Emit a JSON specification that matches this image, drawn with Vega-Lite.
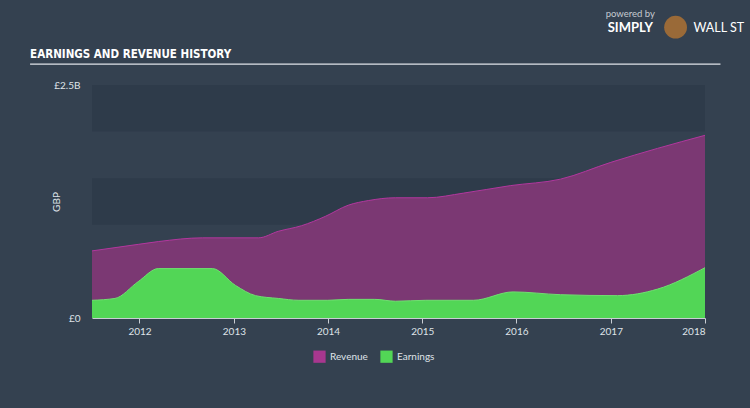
{
  "$schema": "https://vega.github.io/schema/vega-lite/v6.json",
  "autosize": {"type": "none"},
  "width": 613,
  "height": 233,
  "padding": {"left": 92, "top": 85, "right": 45, "bottom": 90},
  "background": "#344150",
  "config": {
    "view": {"stroke": null},
    "axis": {
      "labelFont": "Lato",
      "labelFontSize": 10,
      "labelColor": "#dfe3e8",
      "titleFont": "Lato",
      "titleColor": "#dfe3e8",
      "titleFontSize": 10,
      "titleFontWeight": "normal",
      "grid": false
    },
    "legend": {
      "labelFont": "Lato",
      "labelFontSize": 10,
      "labelColor": "#dfe3e8"
    }
  },
  "datasets": {
    "bands": [
      {"lo": 0, "hi": 0.5},
      {"lo": 1, "hi": 1.5},
      {"lo": 2, "hi": 2.5}
    ],
    "revenue": [
      {"date": "2011-07-01", "value": 0.72, "series": "Revenue"},
      {"date": "2011-12-27", "value": 0.79, "series": "Revenue"},
      {"date": "2012-03-14", "value": 0.82, "series": "Revenue"},
      {"date": "2012-09-01", "value": 0.86, "series": "Revenue"},
      {"date": "2013-04-06", "value": 0.86, "series": "Revenue"},
      {"date": "2013-06-22", "value": 0.93, "series": "Revenue"},
      {"date": "2013-09-20", "value": 0.99, "series": "Revenue"},
      {"date": "2013-12-21", "value": 1.09, "series": "Revenue"},
      {"date": "2014-03-20", "value": 1.21, "series": "Revenue"},
      {"date": "2014-06-06", "value": 1.26, "series": "Revenue"},
      {"date": "2014-09-19", "value": 1.29, "series": "Revenue"},
      {"date": "2015-01-21", "value": 1.29, "series": "Revenue"},
      {"date": "2015-06-10", "value": 1.34, "series": "Revenue"},
      {"date": "2015-12-08", "value": 1.42, "series": "Revenue"},
      {"date": "2016-06-20", "value": 1.49, "series": "Revenue"},
      {"date": "2017-01-01", "value": 1.67, "series": "Revenue"},
      {"date": "2017-07-01", "value": 1.82, "series": "Revenue"},
      {"date": "2018-01-01", "value": 1.96, "series": "Revenue"}
    ],
    "earnings": [
      {"date": "2011-07-01", "value": 0.19, "series": "Earnings"},
      {"date": "2011-09-28", "value": 0.21, "series": "Earnings"},
      {"date": "2011-12-27", "value": 0.39, "series": "Earnings"},
      {"date": "2012-03-14", "value": 0.53, "series": "Earnings"},
      {"date": "2012-10-10", "value": 0.53, "series": "Earnings"},
      {"date": "2013-01-07", "value": 0.35, "series": "Earnings"},
      {"date": "2013-03-26", "value": 0.24, "series": "Earnings"},
      {"date": "2013-06-22", "value": 0.21, "series": "Earnings"},
      {"date": "2013-09-10", "value": 0.19, "series": "Earnings"},
      {"date": "2013-12-31", "value": 0.19, "series": "Earnings"},
      {"date": "2014-03-20", "value": 0.2, "series": "Earnings"},
      {"date": "2014-07-01", "value": 0.2, "series": "Earnings"},
      {"date": "2014-09-19", "value": 0.18, "series": "Earnings"},
      {"date": "2015-01-15", "value": 0.19, "series": "Earnings"},
      {"date": "2015-07-18", "value": 0.19, "series": "Earnings"},
      {"date": "2015-12-19", "value": 0.28, "series": "Earnings"},
      {"date": "2016-06-20", "value": 0.25, "series": "Earnings"},
      {"date": "2017-01-27", "value": 0.24, "series": "Earnings"},
      {"date": "2017-07-01", "value": 0.31, "series": "Earnings"},
      {"date": "2018-01-01", "value": 0.54, "series": "Earnings"}
    ],
    "rule": [
      {"d1": "2010-11-03", "d2": "2018-03-02", "v": 2.725}
    ],
    "heading": [
      {"date": "2010-11-03", "v": 2.79, "t": "EARNINGS AND REVENUE HISTORY"}
    ],
    "powered": [
      {"date": "2016-12-12", "v": 3.23, "t": "powered by"}
    ],
    "simply": [
      {"date": "2016-12-20", "v": 3.07, "t": "SIMPLY"}
    ],
    "wallst": [
      {"date": "2017-11-17", "v": 3.07, "t": "WALL ST"}
    ],
    "bull": [
      {"date": "2017-09-09", "v": 3.12}
    ]
  },
  "layer": [
    {
      "data": {"name": "bands"},
      "mark": {"type": "rect", "color": "#2e3b4a"},
      "encoding": {
        "y": {"field": "lo", "type": "quantitative"},
        "y2": {"field": "hi"}
      }
    },
    {
      "data": {"name": "revenue"},
      "mark": {"type": "area", "interpolate": "monotone", "fill": "#7b3873", "opacity": 1, "fillOpacity": 1, "line": {"color": "#b2379e", "strokeWidth": 1}},
      "encoding": {
        "x": {"field": "date", "type": "temporal"},
        "y": {"field": "value", "type": "quantitative"}
      }
    },
    {
      "data": {"name": "earnings"},
      "mark": {"type": "area", "interpolate": "monotone", "fill": "#52d656", "opacity": 1, "fillOpacity": 1, "line": {"color": "#6fe070", "strokeWidth": 1}},
      "encoding": {
        "x": {"field": "date", "type": "temporal"},
        "y": {"field": "value", "type": "quantitative"}
      }
    },
    {
      "data": {"values": [{"series": "Revenue", "date": "2015-01-01", "value": 0}, {"series": "Earnings", "date": "2015-01-01", "value": 0}]},
      "mark": {"type": "point", "shape": "square", "filled": true, "opacity": 0},
      "encoding": {
        "x": {"field": "date", "type": "temporal"},
        "y": {"field": "value", "type": "quantitative"},
        "color": {
          "field": "series",
          "type": "nominal",
          "sort": ["Revenue", "Earnings"],
          "scale": {"domain": ["Revenue", "Earnings"], "range": ["#a8378f", "#52d656"]},
          "legend": {
            "title": null,
            "orient": "none",
            "legendX": 221,
            "legendY": 265,
            "direction": "horizontal",
            "symbolType": "square",
            "symbolSize": 150,
            "symbolOpacity": 1,
            "symbolStrokeWidth": 0,
            "columnPadding": 12
          }
        }
      }
    },
    {
      "data": {"name": "rule"},
      "mark": {"type": "rule", "color": "#dfe3e8", "strokeWidth": 1.2},
      "encoding": {
        "x": {"field": "d1", "type": "temporal"},
        "x2": {"field": "d2"},
        "y": {"field": "v", "type": "quantitative"}
      }
    },
    {
      "data": {"name": "heading"},
      "mark": {"type": "text", "align": "left", "baseline": "alphabetic", "font": "DejaVu Sans Condensed", "fontWeight": "bold", "fontSize": 11.5, "color": "#ffffff"},
      "encoding": {
        "x": {"field": "date", "type": "temporal"},
        "y": {"field": "v", "type": "quantitative"},
        "text": {"field": "t"}
      }
    },
    {
      "data": {"name": "bull"},
      "mark": {"type": "point", "filled": true, "color": "#9a6a38", "size": 520, "opacity": 1},
      "encoding": {
        "x": {"field": "date", "type": "temporal"},
        "y": {"field": "v", "type": "quantitative"}
      }
    },
    {
      "data": {"name": "powered"},
      "mark": {"type": "text", "align": "left", "baseline": "alphabetic", "font": "Lato", "fontSize": 9.5, "color": "#c5cad0"},
      "encoding": {
        "x": {"field": "date", "type": "temporal"},
        "y": {"field": "v", "type": "quantitative"},
        "text": {"field": "t"}
      }
    },
    {
      "data": {"name": "simply"},
      "mark": {"type": "text", "align": "left", "baseline": "alphabetic", "font": "Lato", "fontSize": 13, "fontWeight": "bold", "color": "#ffffff"},
      "encoding": {
        "x": {"field": "date", "type": "temporal"},
        "y": {"field": "v", "type": "quantitative"},
        "text": {"field": "t"}
      }
    },
    {
      "data": {"name": "wallst"},
      "mark": {"type": "text", "align": "left", "baseline": "alphabetic", "font": "Lato", "fontSize": 12.5, "color": "#ffffff"},
      "encoding": {
        "x": {"field": "date", "type": "temporal"},
        "y": {"field": "v", "type": "quantitative"},
        "text": {"field": "t"}
      }
    }
  ],
  "encoding": {
    "x": {
      "scale": {"domain": ["2011-07-01", "2018-01-01"]},
      "axis": {
        "title": null,
        "format": "%Y",
        "tickCount": {"interval": "year", "step": 1},
        "domainColor": "#c9ced4",
        "tickColor": "#c9ced4",
        "tickSize": 5,
        "labelPadding": 3
      }
    },
    "y": {
      "scale": {"domain": [0, 2.5], "nice": false, "zero": true},
      "axis": {
        "title": "GBP",
        "values": [0, 2.5],
        "labelExpr": "datum.value === 0 ? '£0' : '£2.5B'",
        "ticks": false,
        "domain": false,
        "labelPadding": 12,
        "titlePadding": -8
      }
    }
  }
}
